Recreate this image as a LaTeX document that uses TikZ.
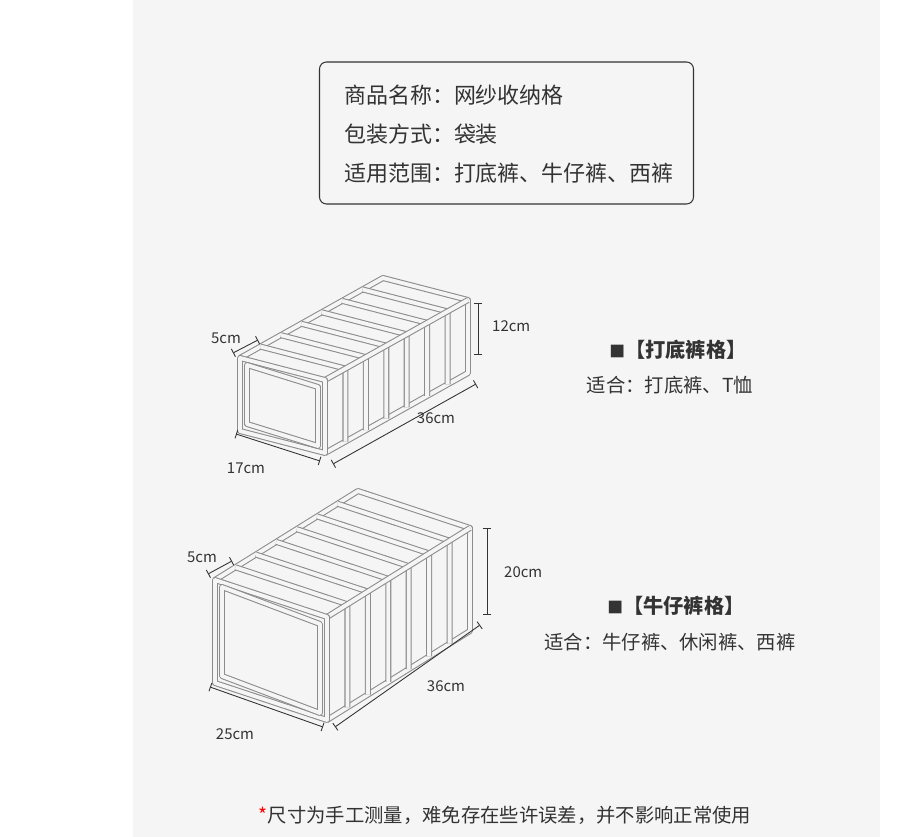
\documentclass[tikz,border=0pt]{standalone}
\usepackage{fontspec}
\setmainfont{Noto Sans CJK SC}
\usetikzlibrary{arrows.meta, positioning, calc}
\definecolor{panelbg}{HTML}{F5F5F5}
\definecolor{wallgray}{HTML}{8C8C8C}
\definecolor{textgray}{HTML}{333333}
\tikzset{
  wall/.style = {draw=wallgray, double=panelbg, double distance=2.2pt, line width=0.6pt, line join=round},
  face/.style = {fill=panelbg},
  dim/.style = {draw=textgray, line width=0.5pt, {Bar[width=5pt]}-{Bar[width=5pt]}},
  dimlabel/.style = {font=\fontsize{8.5}{10}\selectfont, text=textgray},
  infotext/.style = {font=\fontsize{12.5}{15}\selectfont, text=textgray, anchor=west},
  typetext/.style = {font=\fontsize{11}{14}\selectfont, text=textgray}
}
% draw an organizer box: #1 front top-left, #2 width vec, #3 height vec, #4 length vec
\newcommand{\organizer}[4]{
  \coordinate (A) at #1;
  \coordinate (B) at ($(A)+#2$);
  \coordinate (C) at ($(B)+#3$);
  \coordinate (D) at ($(A)+#3$);
  % side face and back
  \path[face] (B) -- ($(B)+#4$) -- ($(C)+#4$) -- (C) -- cycle;
  \draw[wall] (A) -- ($(A)+#4$) -- ($(B)+#4$) -- ($(C)+#4$) -- (C);
  % dividers
  \foreach \t in {6,5,...,1} {
    \draw[wall] ($(A)+\t/7*#4$) -- ($(B)+\t/7*#4$) -- ($(C)+\t/7*#4$);
  }
  \draw[wall] (B) -- ($(B)+#4$);
  % front face
  \draw[wall, face] (A) -- (B) -- (C) -- (D) -- cycle;
  \draw[wall] ($(A)+(7,7)$) -- ($(B)+(-7,7)$) -- ($(C)+(-7,-7)$) -- ($(D)+(7,-7)$) -- cycle;
}

\begin{document}
\begin{tikzpicture}[x=0.02cm, y=-0.02cm]
\useasboundingbox (0,0) rectangle (912,837);
\fill[white] (0,0) rectangle (912,837);
\fill[panelbg] (133,0) rectangle (880,837);

% info box
\node (info) [draw=textgray, rounded corners=4pt, line width=0.6pt, minimum width=374*0.02cm, minimum height=142*0.02cm] at (506.5,133) {};
\node (name) [infotext] at (338,95) {商品名称：网纱收纳格};
\node (pack) [infotext] at (338,134) {包装方式：袋装};
\node (use) [infotext] at (338,173) {适用范围：打底裤、牛仔裤、西裤};

% small box
\organizer{(240,358)}{(85,22)}{(0,73)}{(143,-80)}
\coordinate (h1a) at (478,303);
\coordinate (h1b) at (478,355);
\draw[dim] (h1a) -- (h1b);
\node (h1) [dimlabel, anchor=west] at (486,326) {12cm};
\coordinate (l1a) at (333,464);
\coordinate (l1b) at (476,384);
\draw[dim] (l1a) -- (l1b);
\node (l1) [dimlabel] at (436,418) {36cm};
\coordinate (w1a) at (236,434);
\coordinate (w1b) at (320,461);
\draw[dim] (w1a) -- (w1b);
\node (w1) [dimlabel] at (246,468) {17cm};
\coordinate (c1a) at (233,353);
\coordinate (c1b) at (258,340);
\draw[dim] (c1a) -- (c1b);
\node (c1) [dimlabel] at (226,338) {5cm};

% large box
\organizer{(215,580)}{(112,37)}{(0,103)}{(143,-89)}
\coordinate (h2a) at (487,528);
\coordinate (h2b) at (487,615);
\draw[dim] (h2a) -- (h2b);
\node (h2) [dimlabel, anchor=west] at (498,572) {20cm};
\coordinate (l2a) at (335,727);
\coordinate (l2b) at (480,625);
\draw[dim] (l2a) -- (l2b);
\node (l2) [dimlabel] at (446,686) {36cm};
\coordinate (w2a) at (210,687);
\coordinate (w2b) at (323,727);
\draw[dim] (w2a) -- (w2b);
\node (w2) [dimlabel] at (235,734) {25cm};
\coordinate (c2a) at (208,574);
\coordinate (c2b) at (232,561);
\draw[dim] (c2a) -- (c2b);
\node (c2) [dimlabel] at (202,557) {5cm};

% labels
\node (t1) [typetext, font=\fontsize{11.5}{14}\selectfont\bfseries] at (678,350) {\fontsize{9}{10}\selectfont■\fontsize{11.5}{14}\selectfont【打底裤格】};
\node (s1) [typetext] at (670,385) {适合：打底裤、T恤};
\node (t2) [typetext, font=\fontsize{11.5}{14}\selectfont\bfseries] at (676,606) {\fontsize{9}{10}\selectfont■\fontsize{11.5}{14}\selectfont【牛仔裤格】};
\node (s2) [typetext] at (670,642) {适合：牛仔裤、休闲裤、西裤};

% note
\node (note) [typetext] at (505,815) {\textcolor{red}{*}尺寸为手工测量，难免存在些许误差，并不影响正常使用};
\end{tikzpicture}
\end{document}
